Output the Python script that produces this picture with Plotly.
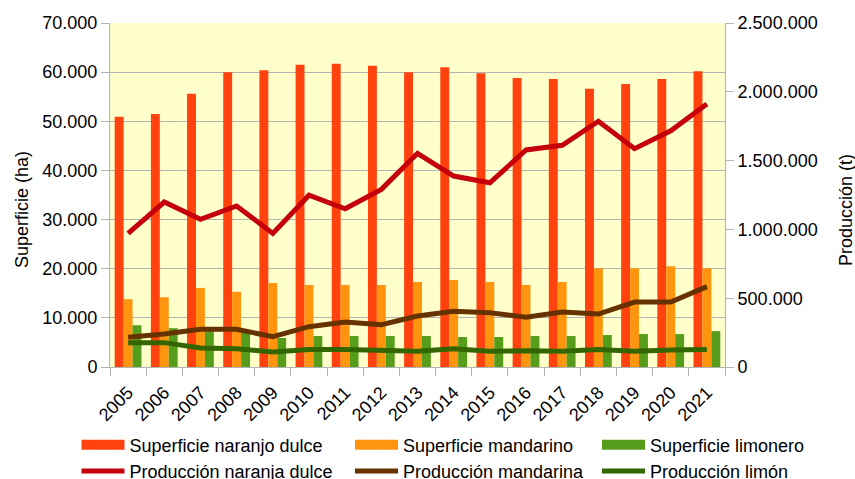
import plotly.graph_objects as go

years = [str(y) for y in range(2005, 2022)]

sup_naranjo = [50900, 51500, 55600, 60000, 60400, 61500, 61700, 61300, 60000,
               61000, 59800, 58800, 58600, 56600, 57600, 58600, 60200]
sup_mandarino = [13800, 14200, 16100, 15300, 17100, 16700, 16700, 16700, 17300,
                 17700, 17300, 16700, 17300, 20100, 20100, 20500, 20100]
sup_limonero = [8500, 7900, 7300, 7000, 5900, 6300, 6300, 6300, 6300,
                6100, 6100, 6300, 6300, 6500, 6700, 6700, 7300]

prod_naranja = [971000, 1199000, 1073000, 1170000, 971000, 1248000, 1150000, 1291000, 1553000,
                1388000, 1339000, 1577000, 1611000, 1786000, 1587000, 1717000, 1911000]
prod_mandarina = [216000, 240000, 274000, 274000, 220000, 293000, 327000, 307000, 371000,
                  405000, 395000, 361000, 400000, 385000, 472000, 472000, 584000]
prod_limon = [177000, 177000, 138000, 133000, 109000, 128000, 128000, 118000, 114000,
              133000, 114000, 118000, 114000, 128000, 114000, 123000, 128000]

left_title = "Superficie (ha)"
right_title = "Producción (t)"

c_nar, c_man, c_lim = "#ff420e", "#ff950e", "#579d1c"
l_nar, l_man, l_lim = "#c5000b", "#663300", "#336600"

FONT = "Liberation Sans, Arial, sans-serif"
fig = go.Figure()

bars = [("Superficie naranjo dulce", sup_naranjo, c_nar, "legend"),
        ("Superficie mandarino", sup_mandarino, c_man, "legend2"),
        ("Superficie limonero", sup_limonero, c_lim, "legend3")]
lines = [("Producción naranja dulce", prod_naranja, l_nar, "legend"),
         ("Producción mandarina", prod_mandarina, l_man, "legend2"),
         ("Producción limón", prod_limon, l_lim, "legend3")]

for name, vals, col, lg in bars:
    fig.add_trace(go.Bar(x=years, y=vals, name=name, marker_color=col,
                         marker_line_width=0, showlegend=False, yaxis="y"))
for name, vals, col, lg in lines:
    fig.add_trace(go.Scatter(x=years, y=vals, name=name, mode="lines",
                             line=dict(color=col, width=5), yaxis="y2",
                             legend=lg, legendrank=2))
# legend swatches for bars (wide rectangles as in reference)
for name, vals, col, lg in bars:
    fig.add_trace(go.Scatter(x=[years[0]], y=[None], name=name, mode="lines",
                             line=dict(color=col, width=11), yaxis="y",
                             legend=lg, legendrank=1, hoverinfo="skip"))

axis_common = dict(showline=True, linecolor="#b3b3b3", linewidth=1,
                   ticks="outside", tickcolor="#b3b3b3", ticklen=8,
                   tickfont=dict(size=18, color="#000000", family=FONT))

leg_common = dict(orientation="v", xref="container", yref="container",
                  xanchor="left", yanchor="top", bgcolor="rgba(0,0,0,0)",
                  font=dict(size=18, color="#000000", family=FONT),
                  itemwidth=43, tracegroupgap=0, traceorder="normal")

fig.update_layout(
    width=855, height=479,
    margin=dict(l=110, r=130, t=23, b=112, autoexpand=False),
    paper_bgcolor="white", plot_bgcolor="#ffffcc",
    font=dict(family=FONT, size=18, color="#000000"),
    separators=",.",
    barmode="group", bargap=0.26, bargroupgap=0,
    xaxis=dict(type="category", categoryorder="array", categoryarray=years,
               range=[-0.5, len(years) - 0.5],
               tickangle=-45, tickson="boundaries", ticklabelstandoff=7,
               showgrid=False, **axis_common),
    yaxis=dict(range=[0, 70000], dtick=10000, tickformat=",d",
               showgrid=True, gridcolor="#b3b3b3", gridwidth=1, zeroline=False,
               **axis_common),
    yaxis2=dict(range=[0, 2500000], dtick=500000, tickformat=",d",
                overlaying="y", side="right", showgrid=False, zeroline=False,
                **axis_common),
    legend=dict(x=76.5/855, y=1 - 426.5/479, **leg_common),
    legend2=dict(x=350/855, y=1 - 426.5/479, **leg_common),
    legend3=dict(x=597/855, y=1 - 426.5/479, **leg_common),
    annotations=[
        dict(text=left_title, xref="paper", yref="paper", x=(22 - 110) / 615,
             y=(367 - 210) / 344, xanchor="center", yanchor="middle",
             textangle=-90, showarrow=False, font=dict(size=18, family=FONT, color="#000000")),
        dict(text=right_title, xref="paper", yref="paper", x=(846 - 110) / 615,
             y=(367 - 210) / 344, xanchor="center", yanchor="middle",
             textangle=-90, showarrow=False, font=dict(size=18, family=FONT, color="#000000")),
    ],
)

fig.write_html("out.html", config={"displayModeBar": False},
               post_script="document.body.style.margin='0px';")
